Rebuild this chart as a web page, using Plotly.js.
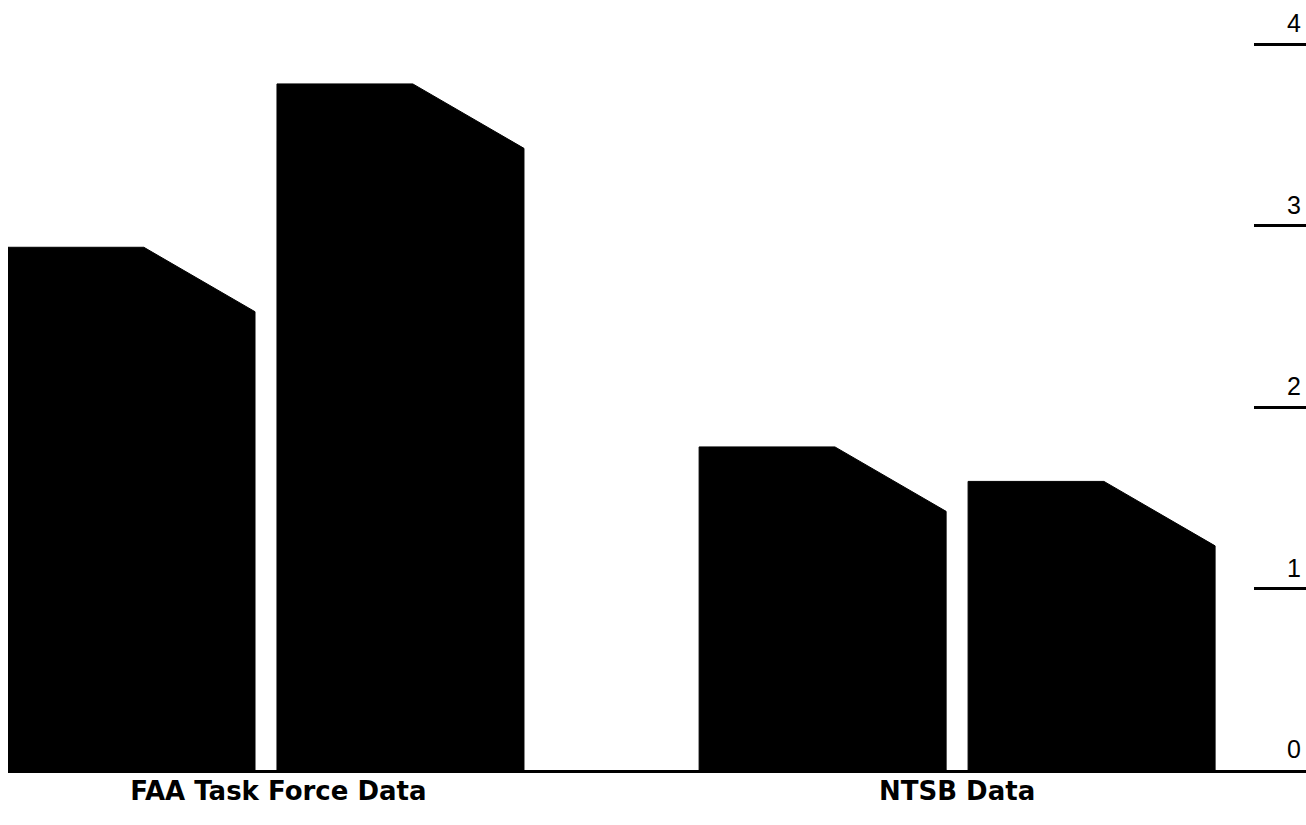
<!DOCTYPE html>
<html>
<head>
<meta charset="utf-8">
<script src="https://cdn.plot.ly/plotly-3.0.1.min.js"></script>
<style>html,body{margin:0;padding:0;background:#fff;}#chart{width:1306px;height:825px;}</style>
</head>
<body>
<div id="chart"></div>
<script>
// ---- data ----
var categories = ['FAA Task Force Data', 'NTSB Data'];
var seriesFirst = [2.88, 1.78];
var seriesSecond = [3.78, 1.59];
var yTickValues = [0, 1, 2, 3, 4];
var yTickLabels = ['0', '1', '2', '3', '4'];

// ---- geometry (layout only) ----
var barWidth = 1.0;
var innerGap = 0.089;
var groupStarts = [0, 2.798];
var labelOffsets = [0.05, 0];
var flatFrac = 0.55;
var bevelDrop = 0.355;

var seriesList = [seriesFirst, seriesSecond];
var traces = [];
var labelPositions = [];
categories.forEach(function (cat, gi) {
  var start = groupStarts[gi];
  seriesList.forEach(function (series, si) {
    var v = series[gi];
    var x0 = start + si * (barWidth + innerGap);
    var x1 = x0 + barWidth;
    var xf = x0 + flatFrac * barWidth;
    traces.push({
      type: 'scatter',
      mode: 'lines',
      x: [x0, x0, xf, x1, x1, x0],
      y: [0, v, v, v - bevelDrop, 0, 0],
      fill: 'toself',
      fillcolor: '#000000',
      line: {color: '#000000', width: 1},
      hoverinfo: 'skip',
      showlegend: false
    });
  });
  labelPositions.push(start + (2 * barWidth + innerGap) / 2 + labelOffsets[gi]);
});

var annotations = yTickValues.map(function (v, i) {
  return {
    xref: 'paper', yref: 'y', x: 1, y: v,
    xanchor: 'right', yanchor: 'bottom',
    xshift: -3, yshift: 5,
    text: yTickLabels[i], showarrow: false,
    font: {family: 'Liberation Sans, Arial, sans-serif', size: 25, color: '#000'}
  };
});

var layout = {
  width: 1306, height: 825,
  margin: {l: 8, r: 0, t: 0, b: 55},
  paper_bgcolor: '#ffffff',
  plot_bgcolor: '#ffffff',
  showlegend: false,
  xaxis: {
    range: [0, 1298 / 247],
    showgrid: false, zeroline: false,
    showline: true, linewidth: 3, linecolor: '#000',
    tickmode: 'array', tickvals: labelPositions, ticktext: categories,
    ticks: '',
    ticklabelstandoff: -4,
    tickfont: {family: 'DejaVu Sans, sans-serif', size: 26, color: '#000', weight: 'bold'}
  },
  yaxis: {
    range: [0, 770 / 181.5],
    side: 'right',
    showgrid: false, zeroline: false, showline: false,
    tickmode: 'array', tickvals: yTickValues,
    ticks: 'inside', ticklen: 52, tickwidth: 3, tickcolor: '#000',
    showticklabels: false
  },
  annotations: annotations
};

Plotly.newPlot('chart', traces, layout, {displayModeBar: false, staticPlot: true});
</script>
</body>
</html>
